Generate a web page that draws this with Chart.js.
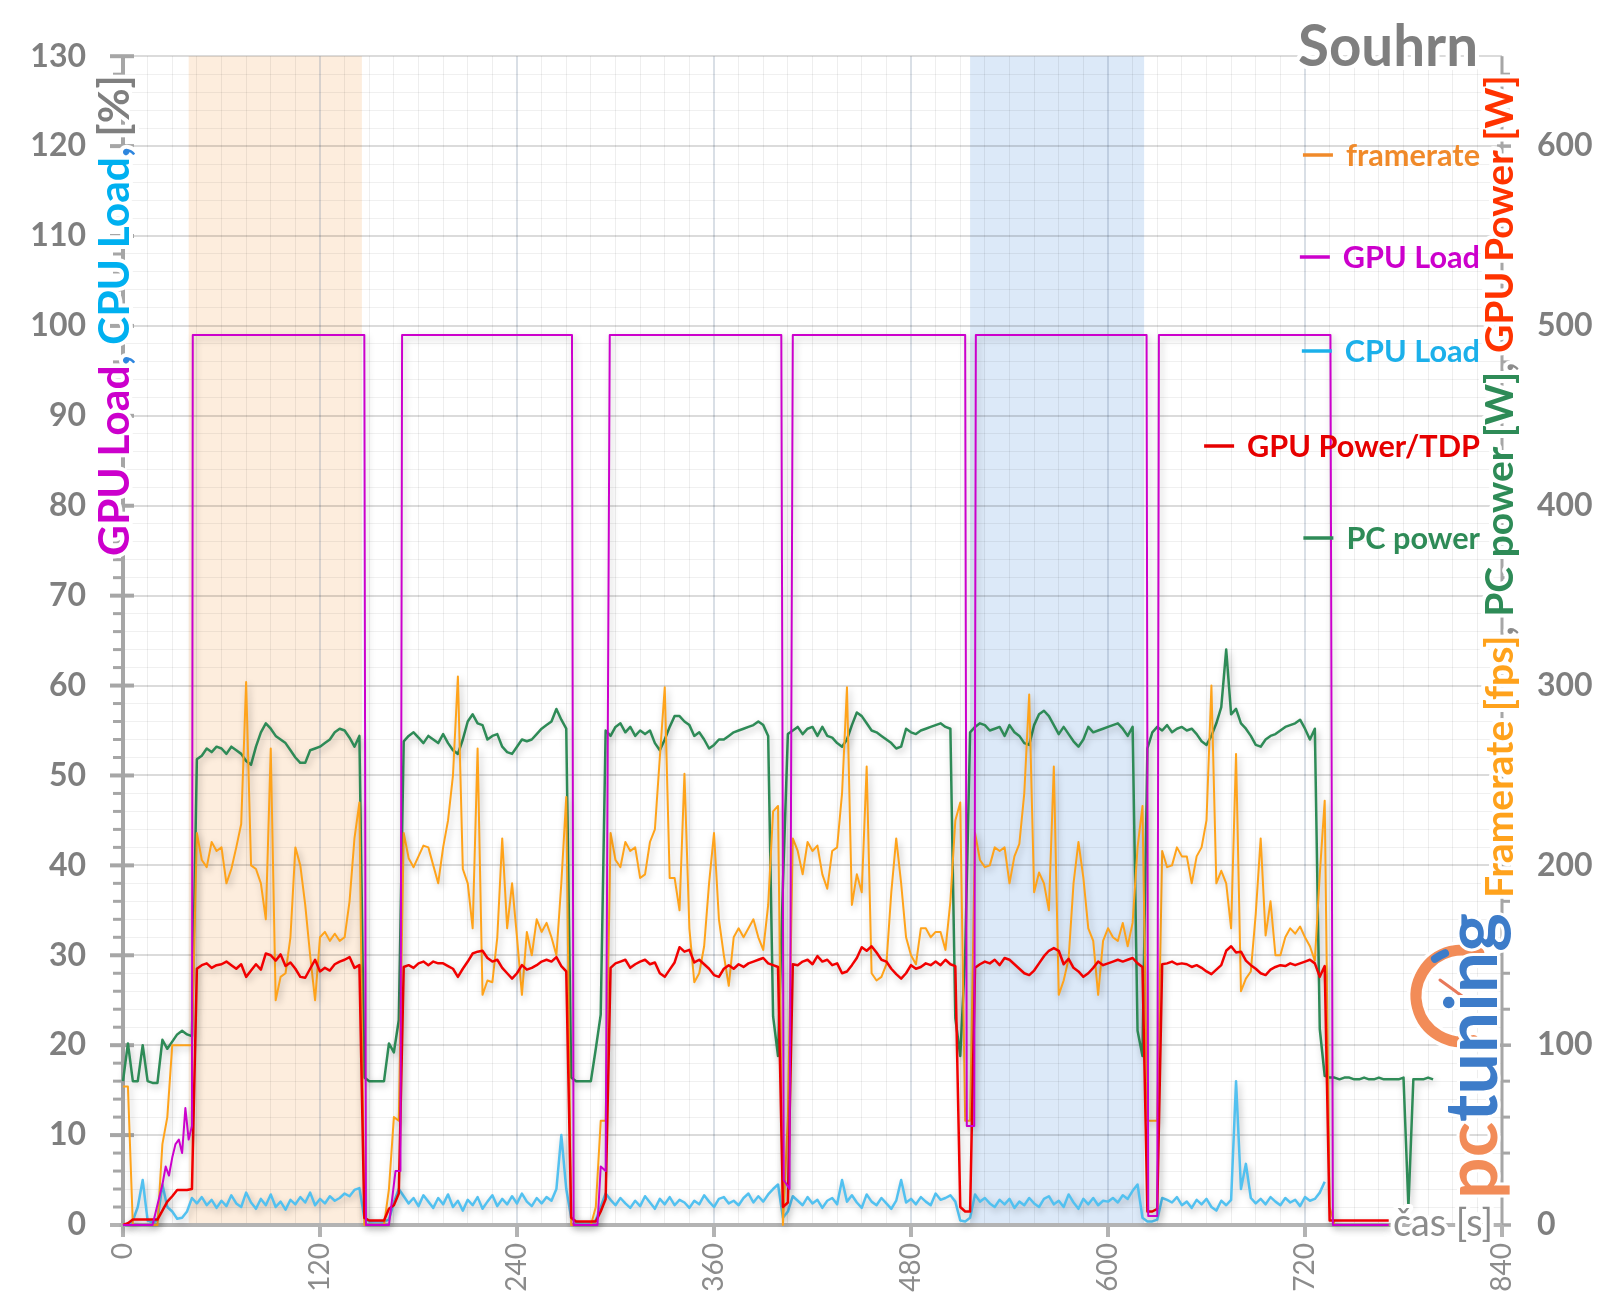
<!DOCTYPE html>
<html lang="cs">
<head>
<meta charset="utf-8">
<title>Souhrn</title>
<script src="https://cdn.jsdelivr.net/npm/chart.js@4.4.1/dist/chart.umd.min.js"></script>
<style>
html,body{margin:0;padding:0;background:#fff;overflow:hidden;}
canvas{display:block;}
</style>
</head>
<body>
<canvas id="chart" width="1600" height="1313"></canvas>
<script>
// ================= DATA =================
// all sampled series: one value every 3 s, starting at t = 0 s (10 values per row = 30 s)
const sampleStep = 3;

// PC power [W] (right axis)
const pcPower = [
  80,101,80,80,100,80,79,79,103,98,
  102,106,108,106,105,259,261,265,263,266,
  265,262,266,264,262,258,256,266,274,279,
  276,272,270,268,264,260,257,257,264,265,
  266,268,270,274,276,275,271,266,272,82,
  80,80,80,80,101,96,114,269,272,274,
  271,268,272,270,268,273,268,264,262,270,
  280,284,279,278,270,272,273,266,263,262,
  266,270,269,270,273,276,278,280,287,281,
  276,82,80,80,80,80,98,117,275,272,
  277,279,274,277,272,275,273,275,268,264,
  270,277,283,283,280,278,272,274,270,265,
  267,270,270,272,274,275,276,277,278,280,
  278,272,116,94,190,273,275,277,273,276,
  277,272,277,272,271,268,266,270,278,285,
  283,279,275,274,272,270,268,265,266,276,
  274,273,275,276,277,278,279,277,276,115,
  94,150,274,277,279,278,275,276,277,272,
  278,274,272,268,267,278,284,286,283,278,
  273,277,273,269,266,270,277,274,275,276,
  277,278,279,276,272,277,108,94,265,274,
  277,275,278,274,276,277,275,276,273,269,
  267,272,279,288,320,284,287,279,276,272,
  267,266,270,272,273,275,277,278,279,281,
  276,270,276,109,83,82,82,81,82,82,
  81,81,82,81,81,82,81,81,81,81,
  82,10,81,81,81,82,81
];

// framerate [fps] (right axis)
const framerate = [
  77,77,0,0,0,0,0,0,45,60,
  100,100,100,100,100,218,203,199,213,208,
  210,190,198,210,223,302,200,198,190,170,
  265,125,138,140,160,210,200,178,150,125,
  160,163,158,162,158,160,180,215,235,0,
  0,0,0,0,20,60,58,218,204,199,
  205,211,210,200,190,210,225,250,305,198,
  190,165,265,128,136,135,160,215,165,190,
  160,128,163,150,170,163,168,160,150,190,
  238,0,0,0,0,0,10,58,58,218,
  203,199,213,208,210,193,195,213,220,260,
  299,193,193,175,251,165,135,140,155,190,
  218,170,150,133,160,165,160,165,170,160,
  153,178,230,233,0,60,215,208,195,213,
  208,211,195,187,208,210,240,299,178,195,
  185,255,140,136,138,145,185,215,190,160,
  150,145,165,165,160,163,163,153,180,225,
  235,58,58,218,203,199,200,210,208,210,
  190,205,212,240,295,185,196,190,175,255,
  128,136,148,190,213,193,165,158,128,158,
  165,160,158,168,155,168,210,233,58,58,
  58,208,199,200,210,205,205,190,205,210,
  225,300,190,197,190,165,262,130,137,141,
  173,215,161,180,150,150,160,165,162,166,
  160,155,147,195,236,10,0,0,0,0,
  0,0,0,0,0,0,0,0,null,null,
  null,null,null,null,null,null,null
];

// GPU Power / TDP [%] (left axis)
const gpuPower = [
  0,0.2,0.6,0.6,0.6,0.6,0.6,0.6,1.6,2.6,
  3.2,3.9,3.9,3.9,4.0,28.5,28.9,29.1,28.6,28.9,
  29.0,29.3,28.9,28.5,29.0,27.6,28.3,29.0,28.4,30.2,
  30.0,29.4,30.1,28.8,29.2,28.5,27.6,27.5,28.5,29.5,
  28.2,28.6,28.3,29.0,29.3,29.5,29.8,28.6,28.9,0.8,
  0.5,0.5,0.5,0.5,1.8,2.2,3.5,28.7,28.9,28.6,
  29.1,29.3,28.9,29.3,29.1,29.1,28.8,28.5,27.6,28.5,
  29.3,30.2,30.4,30.5,29.7,29.3,29.5,28.6,28.0,27.4,
  28.0,28.9,28.4,28.6,28.9,29.3,29.5,29.3,29.8,28.8,
  28.2,0.8,0.4,0.4,0.4,0.4,0.4,1.5,2.9,28.6,
  29.1,29.3,29.5,28.6,29.0,29.3,29.5,29.0,29.2,28.0,
  27.6,28.4,29.2,30.9,30.4,30.6,29.2,29.5,29.0,28.5,
  27.8,27.6,28.5,28.9,28.5,29.0,28.7,29.1,29.3,29.5,
  29.7,29.1,28.9,28.7,2.0,2.5,29.0,28.9,29.3,29.5,
  29.0,29.9,29.3,29.5,28.9,29.1,28.0,28.2,28.9,29.7,
  30.9,30.5,31.0,30.3,29.5,29.3,28.5,27.9,27.4,28.0,
  28.9,28.5,28.7,29.1,28.9,29.3,28.9,29.5,29.0,28.8,
  2.0,1.5,1.5,28.6,29.0,29.3,29.1,29.5,28.9,29.7,
  29.5,29.0,28.5,28.0,27.8,28.3,29.1,29.9,30.5,30.8,
  30.5,29.0,29.6,28.6,28.2,27.6,28.0,28.6,29.3,28.9,
  29.1,29.3,29.5,29.3,29.5,29.7,29.1,28.7,1.5,1.5,
  1.8,29.0,29.1,29.3,29.0,29.1,29.0,28.7,28.9,28.6,
  28.2,27.9,28.4,28.9,30.5,31.0,30.3,30.4,29.4,28.9,
  28.5,28.0,27.8,28.4,28.7,28.9,28.8,29.1,28.9,29.1,
  29.3,29.5,29.1,27.6,28.8,0.5,0.5,0.5,0.5,0.5,
  0.5,0.5,0.5,0.5,0.5,0.5,0.5,0.5,null,null,
  null,null,null,null,null,null,null
];

// CPU Load [%] (left axis)
const cpuLoad = [
  0,0,0.5,2.0,5.0,0.5,0.3,0.5,4.5,2.0,
  1.5,0.7,0.8,1.5,3.0,2.4,3.1,2.2,2.8,1.9,
  2.7,2.1,3.3,2.4,2.0,3.6,2.5,1.8,2.9,2.2,
  3.4,2.0,2.6,1.7,2.8,2.3,3.1,2.5,3.6,2.2,
  2.9,2.4,3.2,2.7,3.0,3.5,3.2,3.9,4.1,0.8,
  0.4,0.4,0.4,0.4,0.6,2.5,4.0,3.2,2.4,3.0,
  2.1,3.3,2.6,1.9,3.0,2.3,3.4,2.0,2.7,1.6,
  2.8,2.2,3.1,1.8,2.6,3.3,2.1,2.9,2.3,3.2,
  2.4,3.5,2.6,2.1,3.0,2.4,3.1,2.7,4.0,10.0,
  4.0,0.8,0.3,0.3,0.3,0.3,0.5,2.0,3.5,2.8,
  2.2,3.0,2.4,1.9,2.7,2.1,3.2,2.5,1.8,2.9,
  2.3,3.1,2.2,2.8,2.5,1.9,2.7,2.3,3.3,2.6,
  2.0,2.9,3.1,2.4,2.7,2.2,3.0,3.5,2.5,3.2,
  2.6,3.4,4.0,4.5,0.8,1.5,3.2,2.7,2.2,3.1,
  2.4,2.8,1.9,2.7,3.0,2.3,5.0,2.6,3.3,2.5,
  1.9,3.4,2.6,2.2,3.0,2.4,1.8,2.7,5.0,2.5,
  2.9,2.3,3.1,2.6,2.2,3.5,2.8,3.0,3.3,2.6,
  0.5,0.4,0.8,3.4,2.6,3.0,2.4,2.0,2.8,2.3,
  2.9,1.9,2.6,2.2,3.0,2.4,2.0,2.9,3.2,2.3,
  2.7,2.0,3.4,2.5,1.8,2.9,2.3,3.0,2.2,2.7,
  2.6,3.0,2.5,3.3,2.9,3.8,4.5,0.8,0.4,0.4,
  0.6,3.0,2.8,2.5,3.1,2.2,2.6,1.9,2.8,2.3,
  2.9,2.0,1.6,2.7,2.2,2.8,16.0,4.0,6.8,3.0,
  2.4,2.9,2.3,3.1,2.6,2.2,3.0,2.5,2.8,2.1,
  3.1,2.7,2.9,3.6,4.8,null,null,null,null,null,
  null,null,null,null,null,null,null,null,null,null,
  null,null,null,null,null,null,null
];

// GPU Load [%] (left axis) - changes only, time [s] / value
const gpuLoadTime  = [0,18,20,22,24,26,28,30,32,34,36,38,40,42,42.5,147,148,162,164,166,169,170,273.5,274.5,289,291,294,296.5,401,402.5,406,408,513,514,518.5,519.5,623.5,624.5,630,631,735.5,737,771];
const gpuLoadValue = [0,0,1.5,3,4.5,6.5,5.5,7.5,9,9.5,8,13,9.5,11,99,99,0,0,3,6,6,99,99,0,0,6.5,6,99,99,5,4,99,99,11,11,99,99,1,1,99,99,0,0];

// highlighted time ranges [s]
const orangeBand = [40, 145.5];
const blueBand = [516, 622];

// tick labels
const xTickLabels = [0,120,240,360,480,600,720,840];
const leftTickLabels = [0,10,20,30,40,50,60,70,80,90,100,110,120,130];
const rightTickLabels = [0,100,200,300,400,500,600];

// ================= CHART =================
const FONT = 'Lato';
const seriesPoints = arr => arr.map((v, i) => ({x: i * sampleStep, y: v}));

const minorX = []; for (let v = 0; v <= 840; v += 15) minorX.push(v);
const minorLeft = []; for (let v = 0; v <= 130; v += 2) minorLeft.push(v);

function seg(ctx, x0, y0, x1, y1) { ctx.beginPath(); ctx.moveTo(x0, y0); ctx.lineTo(x1, y1); ctx.stroke(); }

function fitSize(ctx, parts, weight, target) {
  ctx.font = weight + ' 100px ' + FONT;
  let w = 0; parts.forEach(p => { w += ctx.measureText(p[0]).width; });
  return 100 * target / w;
}
function drawParts(ctx, parts, x, y, size, weight, halo) {
  ctx.font = weight + ' ' + size.toFixed(2) + 'px ' + FONT;
  ctx.textAlign = 'left'; ctx.textBaseline = 'alphabetic';
  const pos = []; let cx = x;
  parts.forEach(p => { pos.push(cx); cx += ctx.measureText(p[0]).width; });
  if (halo) {
    ctx.strokeStyle = '#fff'; ctx.lineWidth = halo; ctx.lineJoin = 'round';
    parts.forEach((p, i) => ctx.strokeText(p[0], pos[i], y));
  }
  parts.forEach((p, i) => { ctx.fillStyle = p[1]; ctx.fillText(p[0], pos[i], y); });
}

const decorPlugin = {
  id: 'decor',
  beforeDraw(chart) {
    const {ctx, chartArea: a} = chart; const x = chart.scales.x;
    ctx.save();
    ctx.fillStyle = '#fff'; ctx.fillRect(0, 0, chart.width, chart.height);
    const bands = [[orangeBand, '#fdeddd'], [blueBand, '#dce9f8']];
    bands.forEach(([r, col]) => {
      const x0 = x.getPixelForValue(r[0]), x1 = x.getPixelForValue(r[1]);
      ctx.fillStyle = col; ctx.fillRect(x0, a.top, x1 - x0, a.bottom - a.top);
    });
    ctx.restore();
  },
  beforeDatasetsDraw(chart) {
    const {ctx, chartArea: a} = chart; const {x, y, y2} = chart.scales;
    ctx.save();
    ctx.lineCap = 'butt';
    // left axis
    ctx.strokeStyle = '#a6a6a6';
    ctx.lineWidth = 4; seg(ctx, a.left, a.top, a.left, a.bottom);
    minorLeft.forEach(v => {
      const py = y.getPixelForValue(v);
      if (v % 10 === 0) { ctx.lineWidth = 4; seg(ctx, a.left - 13, py, a.left + 11, py); }
      else { ctx.lineWidth = 3; seg(ctx, a.left - 10, py, a.left - 2, py); }
    });
    // right axis
    ctx.lineWidth = 3; seg(ctx, a.right, a.top, a.right, a.bottom);
    for (let v = 0; v <= 640; v += 20) {
      const py = y2.getPixelForValue(v);
      if (v % 100 === 0) { ctx.lineWidth = 3.5; seg(ctx, a.right - 5, py, a.right + 9, py); }
      else { ctx.lineWidth = 3; seg(ctx, a.right, py, a.right + 8, py); }
    }
    // bottom axis
    ctx.strokeStyle = '#b3b3b3';
    ctx.lineWidth = 4; seg(ctx, a.left - 13, a.bottom, a.right, a.bottom);
    xTickLabels.forEach(v => {
      const px = x.getPixelForValue(v);
      seg(ctx, px, a.bottom, px, a.bottom + 12);
    });
    ctx.restore();
  },
  afterDraw(chart) {
    const {ctx} = chart;
    ctx.save();
    // left axis title
    const leftParts = [['GPU Load', '#cc00cc'], [', ', '#2e86de'], ['CPU Load', '#00b0f0'], [', ', '#2e86de'], ['[%]', '#7f7f7f']];
    let s = fitSize(ctx, leftParts, 'bold', 481);
    ctx.save(); ctx.translate(129, 556); ctx.rotate(-Math.PI / 2);
    drawParts(ctx, leftParts, 0, 0, s, 'bold', 8); ctx.restore();
    // right axis title
    const rightParts = [['Framerate [fps]', '#ffa21c'], [', ', '#8c8c8c'], ['PC power [W]', '#2e8b57'], [', ', '#8c8c8c'], ['GPU Power [W]', '#ff3300']];
    s = fitSize(ctx, rightParts, 'bold', 823);
    ctx.save(); ctx.translate(1513, 898); ctx.rotate(-Math.PI / 2);
    drawParts(ctx, rightParts, 0, 0, s, 'bold', 8); ctx.restore();

    // logo (pctuning)
    ctx.save();
    ctx.lineCap = 'round';
    ctx.strokeStyle = 'rgba(255,255,255,0.9)'; ctx.lineWidth = 18;
    ctx.beginPath(); ctx.arc(1462, 996, 46, 0.42 * Math.PI, 1.62 * Math.PI); ctx.stroke();
    ctx.strokeStyle = '#f28c58'; ctx.lineWidth = 11;
    ctx.beginPath(); ctx.arc(1462, 996, 46, 0.42 * Math.PI, 1.62 * Math.PI); ctx.stroke();
    ctx.strokeStyle = '#3d7cc9'; ctx.lineWidth = 8;
    ctx.beginPath(); ctx.arc(1462, 996, 46, 1.30 * Math.PI, 1.38 * Math.PI); ctx.stroke();
    ctx.strokeStyle = '#e8795a'; ctx.lineWidth = 3;
    seg(ctx, 1440, 980, 1462, 996);
    ctx.restore();
    const logoParts = [['pc', '#f28c58'], ['tuning', '#3d7cc9']];
    s = fitSize(ctx, logoParts, 'bold', 286);
    ctx.save(); ctx.translate(1497, 1199); ctx.rotate(-Math.PI / 2);
    drawParts(ctx, logoParts, 0, 0, s, 'bold', 6); ctx.restore();

    // chart title
    const titleParts = [['Souhrn', '#7f7f7f']];
    s = fitSize(ctx, titleParts, 'bold', 180);
    drawParts(ctx, titleParts, 1478 - 180, 66, s, 'bold', 8);

    // x axis title
    const xParts = [['čas [s]', '#8c8c8c']];
    s = fitSize(ctx, xParts, 'normal', 100);
    drawParts(ctx, xParts, 1393, 1236, s, 'normal', 8);

    // legend
    const legendItems = [
      ['framerate', '#f08a2a', 155],
      ['GPU Load', '#cc00cc', 257],
      ['CPU Load', '#1cb0ea', 351],
      ['GPU Power/TDP', '#e60000', 446],
      ['PC power', '#2e8b57', 538]
    ];
    const ls = fitSize(ctx, [['GPU Power/TDP', '']], 'bold', 233);
    ctx.font = 'bold ' + ls.toFixed(2) + 'px ' + FONT;
    legendItems.forEach(([txt, col, my]) => {
      const w = ctx.measureText(txt).width;
      const tx = 1480 - w;
      ctx.strokeStyle = col; ctx.lineWidth = 3.5; ctx.lineCap = 'butt';
      seg(ctx, tx - 43, my, tx - 13, my);
      ctx.fillStyle = col; ctx.textAlign = 'left'; ctx.textBaseline = 'alphabetic';
      ctx.fillText(txt, tx, my + 11);
    });
    ctx.restore();
  }
};

const shadowPlugin = {
  id: 'lineShadow',
  beforeDatasetDraw(chart) {
    const c = chart.ctx; c.save();
    c.shadowColor = 'rgba(0,0,0,0.25)'; c.shadowBlur = 7; c.shadowOffsetX = 2; c.shadowOffsetY = 3;
  },
  afterDatasetDraw(chart) { chart.ctx.restore(); }
};

const cfg = {
  type: 'line',
  data: {
    datasets: [
      {label: 'GPU Load', data: gpuLoadTime.map((t, i) => ({x: t, y: gpuLoadValue[i]})), borderColor: '#cc00cc', borderWidth: 2, yAxisID: 'y'},
      {label: 'GPU Power/TDP', data: seriesPoints(gpuPower), borderColor: '#f20000', borderWidth: 2.5, yAxisID: 'y'},
      {label: 'framerate', data: seriesPoints(framerate), borderColor: '#ffa31a', borderWidth: 2, yAxisID: 'y2'},
      {label: 'CPU Load', data: seriesPoints(cpuLoad), borderColor: '#52c1f0', borderWidth: 2.5, yAxisID: 'y'},
      {label: 'PC power', data: seriesPoints(pcPower), borderColor: '#2e8b57', borderWidth: 2.5, yAxisID: 'y2'}
    ]
  },
  options: {
    responsive: false, animation: false, events: [],
    layout: {padding: {top: 55, left: 0, right: 0, bottom: 0}},
    elements: {point: {radius: 0}, line: {tension: 0, fill: false, borderJoinStyle: 'round'}},
    datasets: {line: {clip: 12, spanGaps: false}},
    plugins: {legend: {display: false}, tooltip: {enabled: false}, title: {display: false}},
    scales: {
      x: {
        type: 'linear', position: 'bottom', min: 0, max: 840,
        afterBuildTicks: sc => { sc.ticks = minorX.map(v => ({value: v})); },
        afterFit: sc => { sc.height = 88; },
        grid: {
          drawTicks: false,
          color: c => (c.tick && c.tick.value % 120 === 0) ? 'rgba(110,130,160,0.26)' : 'rgba(0,0,0,0.065)',
          lineWidth: c => (c.tick && c.tick.value % 120 === 0) ? 2 : 1
        },
        border: {display: false},
        ticks: {
          autoSkip: false, minRotation: 90, maxRotation: 90, padding: 18,
          color: '#8c8c8c', font: {family: FONT, size: 28, weight: 'normal'},
          callback: v => xTickLabels.includes(v) ? String(v) : ''
        }
      },
      y: {
        type: 'linear', position: 'left', min: 0, max: 130,
        afterBuildTicks: sc => { sc.ticks = minorLeft.map(v => ({value: v})); },
        afterFit: sc => { sc.width = 123; },
        grid: {
          drawTicks: false,
          color: c => (c.tick && c.tick.value % 10 === 0) ? 'rgba(0,0,0,0.14)' : 'rgba(0,0,0,0.06)',
          lineWidth: c => (c.tick && c.tick.value % 10 === 0) ? 2 : 1
        },
        border: {display: false},
        ticks: {
          autoSkip: false, padding: 37, color: '#7f7f7f',
          font: {family: FONT, size: 32, weight: 'bold'},
          callback: v => leftTickLabels.includes(v) ? String(v) : ''
        }
      },
      y2: {
        type: 'linear', position: 'right', min: 0, max: 650,
        afterBuildTicks: sc => { sc.ticks = rightTickLabels.map(v => ({value: v})); },
        afterFit: sc => { sc.width = 98; },
        grid: {display: false, drawTicks: false},
        border: {display: false},
        ticks: {
          autoSkip: false, padding: 35, color: '#7f7f7f',
          font: {family: FONT, size: 32, weight: 'bold'}
        }
      }
    }
  },
  plugins: [decorPlugin, shadowPlugin]
};

const fontsReady = (document.fonts && document.fonts.load)
  ? Promise.all([document.fonts.load('bold 32px Lato'), document.fonts.load('28px Lato')]).catch(() => {})
  : Promise.resolve();
fontsReady.then(() => { new Chart(document.getElementById('chart'), cfg); });
</script>
</body>
</html>
